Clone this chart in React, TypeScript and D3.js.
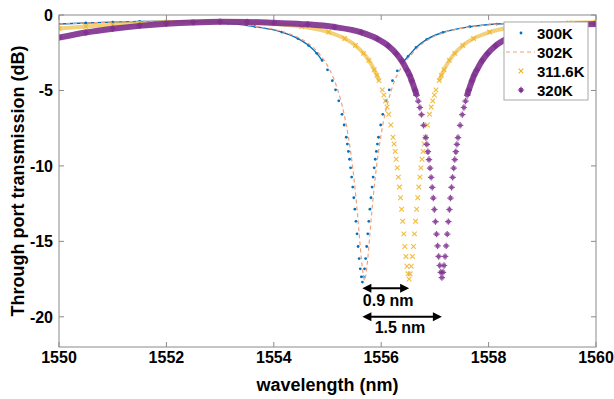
import React from 'react';
import * as d3 from 'd3';

type Pt = [number, number];

// wavelength (nm), through port transmission (dB)
const xTicks = [1550, 1552, 1554, 1556, 1558, 1560];
const yTicks = [0, -5, -10, -15, -20];
const seriesLabels = ['300K', '302K', '311.6K', '320K'];

const t300K: Pt[] = [
  [1550.0, -0.6], [1550.5, -0.53], [1551.0, -0.47], [1551.5, -0.43], [1552.0, -0.41], [1552.5, -0.42],
  [1553.15, -0.55], [1553.65, -0.77], [1554.15, -1.13], [1554.45, -1.56], [1554.65, -2.02], [1554.8, -2.54],
  [1554.9, -3.01], [1555.0, -3.63], [1555.09, -4.35], [1555.15, -4.96], [1555.21, -5.69], [1555.27, -6.58],
  [1555.31, -7.29], [1555.35, -8.1], [1555.37, -8.55], [1555.39, -9.04], [1555.41, -9.56], [1555.43, -10.13],
  [1555.45, -10.74], [1555.47, -11.4], [1555.49, -12.11], [1555.51, -12.87], [1555.53, -13.67], [1555.55, -14.5],
  [1555.57, -15.34], [1555.59, -16.14], [1555.61, -16.82], [1555.63, -17.35], [1555.65, -17.7],
  [1555.67, -17.35], [1555.69, -16.82], [1555.71, -16.14], [1555.73, -15.34], [1555.75, -14.5], [1555.77, -13.67],
  [1555.79, -12.87], [1555.81, -12.11], [1555.83, -11.4], [1555.85, -10.74], [1555.87, -10.13], [1555.89, -9.56],
  [1555.91, -9.04], [1555.93, -8.55], [1555.95, -8.1], [1555.99, -7.29], [1556.03, -6.58], [1556.09, -5.69],
  [1556.15, -4.96], [1556.21, -4.35], [1556.3, -3.7], [1556.4, -3.15], [1556.5, -2.75], [1556.65, -2.15],
  [1556.85, -1.62], [1557.15, -1.15], [1557.65, -0.78], [1558.15, -0.6], [1558.6, -0.55], [1559.0, -0.54],
  [1559.5, -0.55], [1560.0, -0.57],
];

const t302K: Pt[] = [
  [1550.0, -0.6], [1550.5, -0.53], [1551.0, -0.47], [1551.5, -0.43], [1552.0, -0.41], [1552.5, -0.42],
  [1553.2, -0.55], [1553.69, -0.77], [1554.19, -1.13], [1554.49, -1.56], [1554.69, -2.02], [1554.84, -2.54],
  [1554.94, -3.01], [1555.04, -3.63], [1555.13, -4.35], [1555.19, -4.96], [1555.25, -5.69], [1555.31, -6.58],
  [1555.35, -7.29], [1555.39, -8.1], [1555.43, -9.04], [1555.47, -10.13], [1555.51, -11.4], [1555.55, -12.87],
  [1555.59, -14.5], [1555.63, -16.14], [1555.67, -17.3], [1555.69, -17.6], [1555.71, -17.3], [1555.75, -16.14],
  [1555.79, -14.5], [1555.83, -12.87], [1555.87, -11.4], [1555.91, -10.13], [1555.95, -9.04], [1555.99, -8.1],
  [1556.03, -7.29], [1556.07, -6.58], [1556.13, -5.69], [1556.19, -4.96], [1556.25, -4.35], [1556.34, -3.7],
  [1556.44, -3.12], [1556.54, -2.72], [1556.69, -2.13], [1556.89, -1.6], [1557.19, -1.14], [1557.69, -0.78],
  [1558.19, -0.6], [1558.6, -0.55], [1559.0, -0.54], [1559.5, -0.55], [1560.0, -0.57],
];

const t311K: Pt[] = [
  [1550.0, -0.9], [1550.5, -0.76], [1551.0, -0.64], [1551.5, -0.55], [1552.0, -0.48], [1552.5, -0.45],
  [1553.0, -0.45], [1553.5, -0.49], [1554.02, -0.59], [1554.52, -0.77], [1555.02, -1.13], [1555.32, -1.56],
  [1555.52, -2.02], [1555.67, -2.54], [1555.77, -3.01], [1555.87, -3.63], [1555.92, -4.0], [1555.96, -4.35],
  [1556.02, -4.96], [1556.05, -5.3], [1556.08, -5.69], [1556.11, -6.1], [1556.14, -6.58], [1556.18, -7.29],
  [1556.22, -8.1], [1556.24, -8.55], [1556.26, -9.04], [1556.28, -9.56], [1556.3, -10.13], [1556.32, -10.74],
  [1556.34, -11.4], [1556.36, -12.11], [1556.38, -12.87], [1556.4, -13.67], [1556.42, -14.5], [1556.44, -15.34],
  [1556.46, -16.0], [1556.48, -16.65], [1556.5, -17.15], [1556.52, -17.5], [1556.54, -17.15], [1556.56, -16.65],
  [1556.58, -16.0], [1556.6, -15.34], [1556.62, -14.5], [1556.64, -13.67], [1556.66, -12.87], [1556.68, -12.11],
  [1556.7, -11.4], [1556.72, -10.74], [1556.74, -10.13], [1556.76, -9.56], [1556.78, -9.04], [1556.8, -8.55],
  [1556.82, -8.1], [1556.86, -7.29], [1556.9, -6.58], [1556.93, -6.1], [1556.96, -5.69], [1556.99, -5.3],
  [1557.02, -4.96], [1557.08, -4.35], [1557.12, -4.0], [1557.17, -3.63], [1557.27, -3.01], [1557.37, -2.54],
  [1557.52, -2.02], [1557.72, -1.56], [1558.02, -1.13], [1558.52, -0.77], [1559.02, -0.59], [1559.5, -0.52],
  [1560.0, -0.48],
];

const t320K: Pt[] = [
  [1550.0, -1.5], [1550.5, -1.16], [1551.0, -0.91], [1551.5, -0.72], [1552.0, -0.58], [1552.5, -0.49],
  [1553.0, -0.45], [1553.5, -0.46], [1554.0, -0.52], [1554.63, -0.62], [1555.13, -0.8], [1555.63, -1.15],
  [1555.93, -1.58], [1556.13, -2.04], [1556.28, -2.56], [1556.38, -3.03], [1556.48, -3.65], [1556.53, -4.0],
  [1556.57, -4.37], [1556.63, -4.98], [1556.66, -5.33], [1556.69, -5.71], [1556.72, -6.13], [1556.75, -6.6],
  [1556.79, -7.31], [1556.83, -8.12], [1556.85, -8.57], [1556.87, -9.06], [1556.89, -9.58], [1556.91, -10.15],
  [1556.93, -10.76], [1556.95, -11.42], [1556.97, -12.13], [1556.99, -12.89], [1557.01, -13.69], [1557.03, -14.52],
  [1557.05, -15.3], [1557.07, -16.0], [1557.09, -16.6], [1557.11, -17.05], [1557.13, -17.4], [1557.15, -17.05],
  [1557.17, -16.6], [1557.19, -16.0], [1557.21, -15.3], [1557.23, -14.52], [1557.25, -13.69], [1557.27, -12.89],
  [1557.29, -12.13], [1557.31, -11.42], [1557.33, -10.76], [1557.35, -10.15], [1557.37, -9.58], [1557.39, -9.06],
  [1557.41, -8.57], [1557.43, -8.12], [1557.47, -7.31], [1557.51, -6.6], [1557.54, -6.13], [1557.57, -5.71],
  [1557.6, -5.33], [1557.63, -4.98], [1557.69, -4.37], [1557.73, -4.0], [1557.78, -3.65], [1557.88, -3.03],
  [1557.98, -2.56], [1558.13, -2.04], [1558.33, -1.58], [1558.63, -1.15], [1559.13, -0.8], [1559.63, -0.64],
  [1560.0, -0.6],
];

// resonance shift annotations (nm)
const shifts = [
  { from: 1555.65, to: 1556.52, label: '0.9 nm' },
  { from: 1555.65, to: 1557.13, label: '1.5 nm' },
];

const W = 614;
const H = 399;
const FONT = 'Arial, "Liberation Sans", sans-serif';
const AXIS = '#8a8a8a';
const BLUE = '#0072BD';
const ORANGE = '#F0A080';
const YELLOW = '#EDB120';
const PURPLE = '#7E2F8E';

const x = d3.scaleLinear().domain([1550, 1560]).range([59, 596]);
const y = d3.scaleLinear().domain([-22, 0]).range([347, 15]);

const band = (thr: number) =>
  d3.line<Pt>()
    .defined(d => d[1] > thr)
    .x(d => x(d[0]))
    .y(d => y(d[1]))
    .curve(d3.curveMonotoneX);

const fullLine = d3.line<Pt>().x(d => x(d[0])).y(d => y(d[1])).curve(d3.curveMonotoneX);

const timesPath = (cx: number, cy: number, r: number) =>
  `M${cx - r},${cy - r}L${cx + r},${cy + r}M${cx - r},${cy + r}L${cx + r},${cy - r}`;
const starPath = (cx: number, cy: number, r: number) =>
  `M${cx - r},${cy}L${cx + r},${cy}M${cx},${cy - r}L${cx},${cy + r}` + timesPath(cx, cy, r * 0.55);

const Arrow: React.FC<{ x1: number; x2: number; yy: number }> = ({ x1, x2, yy }) => (
  <g>
    <line x1={x1 + 4} x2={x2 - 4} y1={yy} y2={yy} stroke="#000" strokeWidth={2} />
    <path d={`M${x1},${yy}L${x1 + 9},${yy - 4.5}L${x1 + 9},${yy + 4.5}Z`} fill="#000" />
    <path d={`M${x2},${yy}L${x2 - 9},${yy - 4.5}L${x2 - 9},${yy + 4.5}Z`} fill="#000" />
  </g>
);

export default function App() {
  const [x0, x1] = x.range();
  const [y0, y1] = y.range();
  const arrowLevels = [-18.1, -20.0];
  const labelLevels = [-19.25, -21.1];
  const labelShift = [0.48, 0.7];

  return (
    <svg width={W} height={H} style={{ position: 'absolute', left: 0, top: 0, background: '#fff' }}
      fontFamily={FONT} fontWeight="bold">
      <defs>
        <clipPath id="plot">
          <rect x={x0} y={y1} width={x1 - x0} height={y0 - y1} />
        </clipPath>
      </defs>

      <g clipPath="url(#plot)">
        {/* 300K */}
        <path d={band(-3.2)(t300K) || ''} fill="none" stroke={BLUE} strokeWidth={1.4} />
        {t300K.map((d, i) => (
          <circle key={'b' + i} cx={x(d[0])} cy={y(d[1])} r={1.4} fill={BLUE} />
        ))}
        {/* 302K */}
        <path d={fullLine(t302K) || ''} fill="none" stroke={ORANGE} strokeWidth={1.2} strokeDasharray="4,3" />
        {/* 311.6K */}
        <path d={band(-4.6)(t311K) || ''} fill="none" stroke={YELLOW} strokeOpacity={0.6} strokeWidth={4} />
        {t311K.map((d, i) => (
          <path key={'y' + i} d={timesPath(x(d[0]), y(d[1]), 2.3)} stroke={YELLOW} strokeOpacity={0.85}
            strokeWidth={1.1} fill="none" />
        ))}
        {/* 320K */}
        <path d={band(-5.6)(t320K) || ''} fill="none" stroke={PURPLE} strokeOpacity={0.9} strokeWidth={6} />
        {t320K.map((d, i) => (
          <path key={'p' + i} d={starPath(x(d[0]), y(d[1]), 3.2)} stroke={PURPLE} strokeOpacity={0.85}
            strokeWidth={1.2} fill="none" />
        ))}
      </g>

      {/* axes box with inward ticks */}
      <rect x={x0} y={y1} width={x1 - x0} height={y0 - y1} fill="none" stroke={AXIS} strokeWidth={1} />
      {xTicks.map(t => (
        <g key={'xt' + t}>
          <line x1={x(t)} x2={x(t)} y1={y0} y2={y0 - 5} stroke={AXIS} />
          <line x1={x(t)} x2={x(t)} y1={y1} y2={y1 + 5} stroke={AXIS} />
          <text x={x(t)} y={y0 + 16} textAnchor="middle" fontSize={16}>{t}</text>
        </g>
      ))}
      {yTicks.map(t => (
        <g key={'yt' + t}>
          <line x1={x0} x2={x0 + 5} y1={y(t)} y2={y(t)} stroke={AXIS} />
          <line x1={x1} x2={x1 - 5} y1={y(t)} y2={y(t)} stroke={AXIS} />
          <text x={x0 - 6} y={y(t) + 5.7} textAnchor="end" fontSize={16}>{t}</text>
        </g>
      ))}
      <text x={(x0 + x1) / 2} y={391} textAnchor="middle" fontSize={18}>wavelength (nm)</text>
      <text transform={`translate(23.5,${(y0 + y1) / 2}) rotate(-90)`} textAnchor="middle" fontSize={18}>
        Through port transmission (dB)
      </text>

      {/* shift annotations */}
      {shifts.map((s, i) => (
        <g key={'s' + i}>
          <Arrow x1={x(s.from)} x2={x(s.to)} yy={y(arrowLevels[i])} />
          <text x={x(s.from + labelShift[i])} y={y(labelLevels[i])} textAnchor="middle" fontSize={16}>
            {s.label}
          </text>
        </g>
      ))}

      {/* legend */}
      <g>
        <rect x={504} y={22} width={84} height={78} fill="#fff" stroke="#a8a8a8" strokeWidth={1} />
        {seriesLabels.map((lab, i) => {
          const cy = 33 + i * 19;
          return (
            <g key={lab}>
              {i === 0 && <circle cx={521} cy={cy} r={1.4} fill={BLUE} />}
              {i === 1 && <line x1={506} x2={535} y1={cy} y2={cy} stroke={ORANGE} strokeWidth={1.2} strokeDasharray="4,3" />}
              {i === 2 && <path d={timesPath(521, cy, 2.3)} stroke={YELLOW} strokeWidth={1.1} fill="none" />}
              {i === 3 && <path d={starPath(521, cy, 3.2)} stroke={PURPLE} strokeWidth={1.2} fill="none" />}
              <text x={537} y={cy + 5.5} fontSize={15}>{lab}</text>
            </g>
          );
        })}
      </g>
    </svg>
  );
}
